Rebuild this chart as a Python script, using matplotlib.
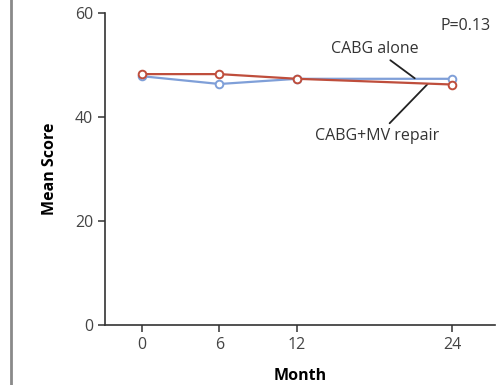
import matplotlib.pyplot as plt
from matplotlib.lines import Line2D

months = [0, 6, 12, 24]
cabg_alone = [47.8, 46.3, 47.3, 47.3]
cabg_mv = [48.2, 48.2, 47.3, 46.2]
yticks = [0, 20, 40, 60]

plt.rcParams['font.family'] = ['Open Sans', 'DejaVu Sans']

fig = plt.figure(figsize=(5.04, 3.85), dpi=100)
ax = fig.add_axes([0.208, 0.156, 0.774, 0.811])

blue = '#7f9fd8'
red = '#bf4e3c'
ax.plot(months, cabg_alone, color=blue, lw=1.6, marker='o', ms=5.5,
        mfc='white', mec=blue, mew=1.4, zorder=3)
ax.plot(months, cabg_mv, color=red, lw=1.6, marker='o', ms=5.5,
        mfc='white', mec=red, mew=1.4, zorder=4)

ax.set_xlim(-2.86, 27.3)
ax.set_ylim(0, 60)
ax.set_xticks(months)
ax.set_yticks(yticks)
for s in ['top', 'right']:
    ax.spines[s].set_visible(False)
for s in ['left', 'bottom']:
    ax.spines[s].set_color('#333333')
    ax.spines[s].set_linewidth(1.2)
ax.tick_params(colors='#333333', labelcolor='#444444', labelsize=11.5,
               length=5, width=1.1)
ax.set_xlabel('Month', fontsize=11.5, fontweight='bold', labelpad=11)
ax.set_ylabel('Mean Score', fontsize=11.5, fontweight='bold', labelpad=12)

ax.text(27.0, 57.5, 'P=0.13', fontsize=11.5, ha='right', va='center', color='#333333')
ax.annotate('CABG alone', xy=(21.1, 47.4), xytext=(18.0, 53.1),
            fontsize=11.5, ha='center', va='center', color='#333333',
            arrowprops=dict(arrowstyle='-', color='#222222', lw=1.3,
                            shrinkA=1, shrinkB=0))
ax.annotate('CABG+MV repair', xy=(22.1, 46.3), xytext=(18.2, 36.3),
            fontsize=11.5, ha='center', va='center', color='#333333',
            arrowprops=dict(arrowstyle='-', color='#222222', lw=1.3,
                            shrinkA=2, shrinkB=0))

fig.add_artist(Line2D([0.022, 0.022], [0, 1], color='#8a8a8a', lw=2.0))

fig.savefig('out.png', dpi=100)
